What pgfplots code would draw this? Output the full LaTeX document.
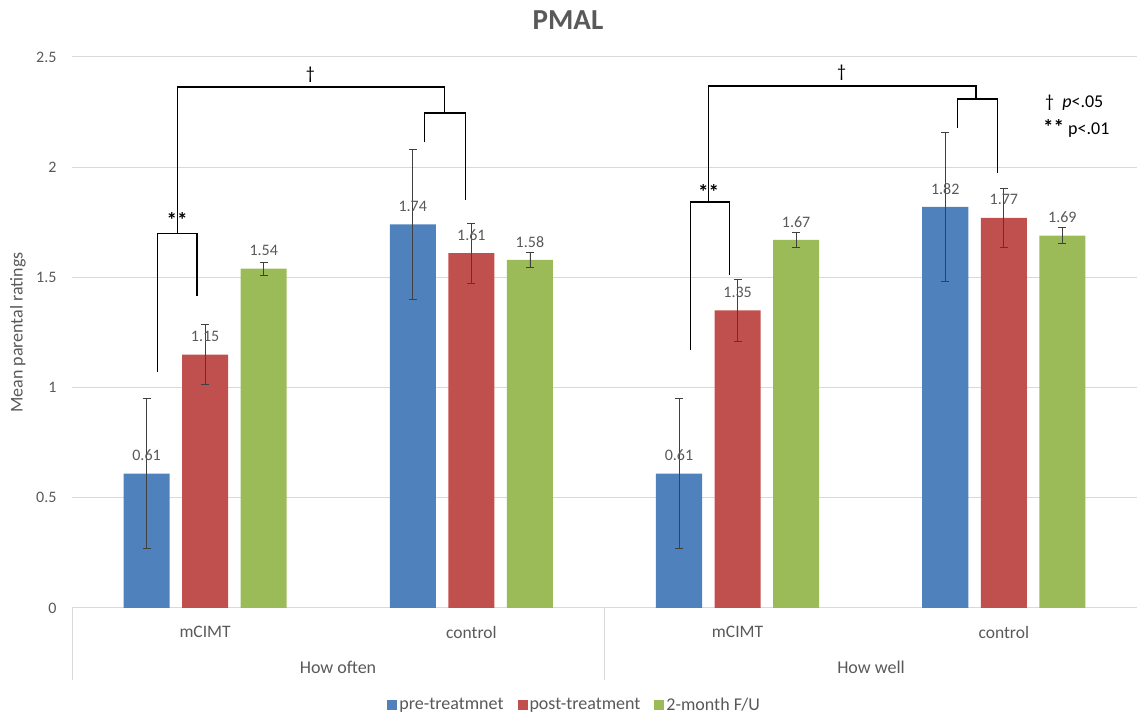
\documentclass[border=0pt]{standalone}
\usepackage{fontspec}
\setmainfont{Carlito}
\usepackage{pgfplots}
\pgfplotsset{compat=1.18}
\definecolor{sblue}{HTML}{4F81BD}
\definecolor{sred}{HTML}{C0504D}
\definecolor{sgreen}{HTML}{9BBB59}
\definecolor{txt}{HTML}{595959}
\definecolor{gridc}{HTML}{D9D9D9}
\definecolor{errc}{HTML}{404040}
\newcommand{\fs}[1]{\fontsize{#1}{#1}\selectfont}
\begin{document}
\begin{tikzpicture}
\useasboundingbox (-72pt,-111pt) rectangle (1065pt,608pt);
\begin{axis}[
  scale only axis, width=1065pt, height=551pt,
  xmin=-0.5, xmax=3.5, ymin=0, ymax=2.5,
  clip=false,
  axis x line*=bottom, axis y line*=left,
  y axis line style={draw=none},
  x axis line style={gridc, line width=1pt},
  ytick={0,0.5,1,1.5,2,2.5},
  ymajorgrids, grid style={gridc, line width=1pt},
  major tick length=0pt,
  xtick={0,1,2,3}, xticklabels={mCIMT,control,mCIMT,control},
  xticklabel style={anchor=center, yshift=-24pt, font=\fs{17.5}, text=txt},
  yticklabel style={anchor=east, xshift=-12pt, font=\fs{16}, text=txt},
  /pgf/number format/assume math mode=true,
  ylabel={Mean parental ratings},
  ylabel style={at={(axis description cs:-0.0507,0.5)}, anchor=center, font=\fs{18}, text=txt},
  error bars/y dir=both, error bars/y explicit,
  error bars/error bar style={line width=0.8pt, color=errc},
  error bars/error mark options={rotate=90, mark size=4pt, line width=0.8pt, color=errc},
  nodes near coords,
  nodes near coords style={font=\fs{16}, text=txt, anchor=center, yshift=18pt, /pgf/number format/fixed, /pgf/number format/precision=2},
  legend style={at={(0.472,-0.176)}, anchor=center, draw=none, font=\fs{18}, text=txt,
    legend columns=3, /tikz/every even column/.append style={column sep=12pt}},
  legend image code/.code={\fill[#1] (0pt,-5pt) rectangle (10pt,5pt);},
]
\addplot[ybar, bar shift=0pt, bar width=0.173, fill=sblue, draw=none]
  coordinates {(-0.22,0.61) +- (0,0.34) (0.78,1.74) +- (0,0.34) (1.78,0.61) +- (0,0.34) (2.78,1.82) +- (0,0.34)};
\addlegendentry{pre-treatmnet}
\addplot[ybar, bar shift=0pt, bar width=0.173, fill=sred, draw=none]
  coordinates {(0,1.15) +- (0,0.137) (1,1.61) +- (0,0.135) (2,1.35) +- (0,0.14) (3,1.77) +- (0,0.135)};
\addlegendentry{post-treatment}
\addplot[ybar, bar shift=0pt, bar width=0.173, fill=sgreen, draw=none]
  coordinates {(0.22,1.54) +- (0,0.03) (1.22,1.58) +- (0,0.035) (2.22,1.67) +- (0,0.035) (3.22,1.69) +- (0,0.035)};
\addlegendentry{2-month F/U}

% significance brackets
\draw[black, line width=1.3pt] (axis cs:-0.180,1.07) |- (axis cs:-0.030,1.70) -- (axis cs:-0.030,1.415);
\draw[black, line width=1.3pt] (axis cs:-0.105,1.70) |- (axis cs:0.898,2.364) -- (axis cs:0.898,2.246);
\draw[black, line width=1.3pt] (axis cs:0.823,2.114) |- (axis cs:0.977,2.246) -- (axis cs:0.977,1.851);
\node[font=\fs{21}\bfseries] at (axis cs:-0.105,1.76) {**};
\node[font=\fs{18}] at (axis cs:0.395,2.42) {\textdagger};
\draw[black, line width=1.3pt] (axis cs:1.823,1.17) |- (axis cs:1.970,1.842) -- (axis cs:1.970,1.511);
\draw[black, line width=1.3pt] (axis cs:1.891,1.842) |- (axis cs:2.895,2.368) -- (axis cs:2.895,2.31);
\draw[black, line width=1.3pt] (axis cs:2.827,2.178) |- (axis cs:2.977,2.31) -- (axis cs:2.977,1.974);
\node[font=\fs{21}\bfseries] at (axis cs:1.891,1.887) {**};
\node[font=\fs{18}] at (axis cs:2.391,2.427) {\textdagger};
\end{axis}
% bottom separators and group labels
\draw[gridc, line width=1pt] (0pt,0pt) -- (0pt,-72pt);
\draw[gridc, line width=1pt] (532pt,0pt) -- (532pt,-72pt);
\draw[gridc, line width=1pt] (1065pt,0pt) -- (1065pt,-72pt);
\node[font=\fs{18}, text=txt] at (266pt,-59pt) {How often};
\node[font=\fs{18}, text=txt] at (799pt,-59pt) {How well};
% title
\node[font=\fs{29}\bfseries, text=txt] at (496pt,588pt) {PMAL};
% significance note
\node[font=\fs{18}, anchor=west, inner sep=0pt] at (973pt,505pt) {\textdagger\ \ \textit{p}<.05};
\node[font=\fs{18}, anchor=west, inner sep=0pt] at (971pt,480pt) {{\fs{21}\bfseries **} p<.01};
\end{tikzpicture}
\end{document}
